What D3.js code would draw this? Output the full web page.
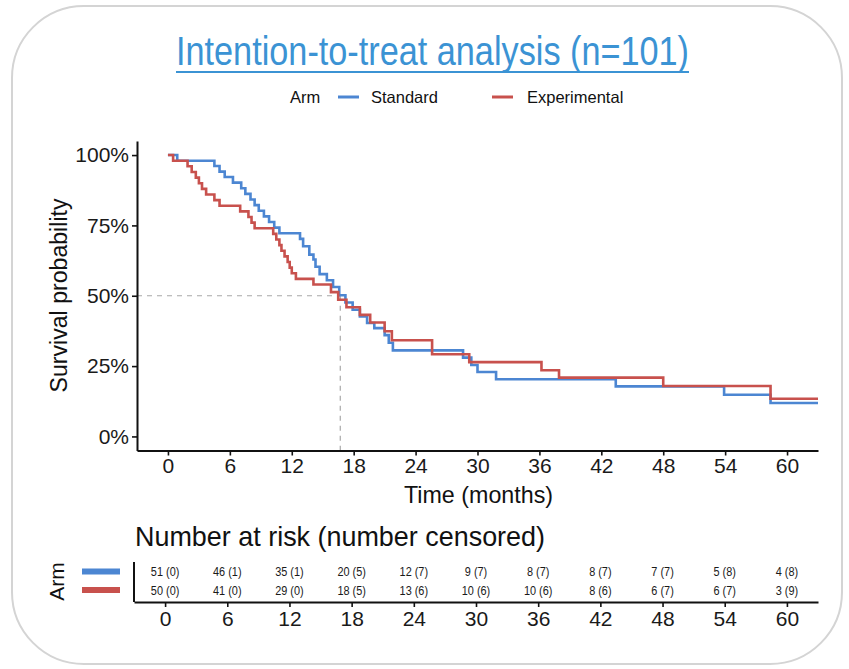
<!DOCTYPE html>
<html>
<head>
<meta charset="utf-8">
<script src="https://cdn.jsdelivr.net/npm/d3@7"></script>
<style>
  body { margin: 0; background: #fff; }
  svg { display: block; font-family: "Liberation Sans", Arial, sans-serif; }
</style>
</head>
<body>
<div id="chart"></div>
<script>
var width = 849, height = 669;

// arms
var arms = ["Standard", "Experimental"];
var armColors = ["#4c86d2", "#c8514d"];

// Kaplan-Meier steps (time in months, survival)
var stdTime = [0, 0.9, 4.5, 5.0, 5.5, 6.3, 7.1, 7.5, 8.0, 8.4, 8.8, 9.3, 9.8, 10.3, 10.8, 12.8, 13.1, 13.7, 14.1, 14.3, 14.7, 15.4, 16.0, 16.6, 17.2, 17.9, 18.6, 19.3, 20.0, 21.0, 21.4, 21.8, 28.6, 29.4, 30.0, 31.8, 43.4, 53.9, 58.4];
var stdSurv = [1.000, 0.980, 0.961, 0.941, 0.922, 0.902, 0.882, 0.862, 0.842, 0.822, 0.802, 0.782, 0.762, 0.742, 0.722, 0.702, 0.676, 0.646, 0.629, 0.603, 0.577, 0.555, 0.531, 0.502, 0.476, 0.450, 0.426, 0.403, 0.385, 0.360, 0.333, 0.306, 0.280, 0.254, 0.229, 0.203, 0.178, 0.148, 0.119];

var expTime = [0, 0.5, 1.9, 2.3, 2.7, 3.0, 3.3, 3.7, 4.5, 5.0, 7.0, 7.8, 8.1, 8.4, 10.2, 10.5, 10.8, 11.0, 11.3, 11.6, 11.8, 12.0, 12.4, 14.1, 15.8, 16.5, 17.3, 18.6, 19.6, 21.0, 21.7, 25.6, 29.2, 36.2, 37.9, 48.0, 58.4];
var expSurv = [1.00, 0.98, 0.96, 0.94, 0.92, 0.90, 0.88, 0.86, 0.84, 0.82, 0.80, 0.78, 0.76, 0.74, 0.72, 0.70, 0.68, 0.66, 0.64, 0.62, 0.60, 0.58, 0.56, 0.54, 0.513, 0.486, 0.459, 0.432, 0.405, 0.374, 0.342, 0.292, 0.264, 0.235, 0.209, 0.179, 0.134];

var endTime = 63;
var medianTime = 16.7;

var xTicks = [0, 6, 12, 18, 24, 30, 36, 42, 48, 54, 60];
var yTicks = [0, 0.25, 0.5, 0.75, 1];

// number at risk (number censored)
var riskStd = ["51 (0)", "46 (1)", "35 (1)", "20 (5)", "12 (7)", "9 (7)", "8 (7)", "8 (7)", "7 (7)", "5 (8)", "4 (8)"];
var riskExp = ["50 (0)", "41 (0)", "29 (0)", "18 (5)", "13 (6)", "10 (6)", "10 (6)", "8 (6)", "6 (7)", "6 (7)", "3 (9)"];

var svg = d3.select("#chart")
  .append("svg")
  .attr("width", width)
  .attr("height", height);

// rounded frame
svg.append("rect")
  .attr("x", 12).attr("y", 6)
  .attr("width", 830).attr("height", 658)
  .attr("rx", 72).attr("ry", 72)
  .attr("fill", "#fff")
  .attr("stroke", "#d4d4d4")
  .attr("stroke-width", 2);

// title
var titleColor = "#3b93d4";
svg.append("text")
  .attr("x", 432.5).attr("y", 65)
  .attr("text-anchor", "middle")
  .attr("textLength", 513)
  .attr("lengthAdjust", "spacingAndGlyphs")
  .style("font-family", "'Liberation Sans Narrow', 'Arial Narrow', 'Liberation Sans', sans-serif")
  .style("font-size", "40px")
  .attr("fill", titleColor)
  .text("Intention-to-treat analysis (n=101)");
svg.append("line")
  .attr("x1", 176).attr("x2", 689)
  .attr("y1", 72).attr("y2", 72)
  .attr("stroke", titleColor).attr("stroke-width", 2);

// legend
var leg = svg.append("g").style("font-size", "16.5px").attr("fill", "#111");
leg.append("text").attr("x", 290).attr("y", 103).text("Arm");
var legX = [[338, 371], [492, 527]];
arms.forEach(function(a, i) {
  leg.append("line")
    .attr("x1", legX[i][0]).attr("x2", legX[i][0] + 21)
    .attr("y1", 97).attr("y2", 97)
    .attr("stroke", armColors[i]).attr("stroke-width", 3);
  leg.append("text").attr("x", legX[i][1]).attr("y", 103).text(a);
});

// scales
var x = d3.scaleLinear().domain([-3, 63]).range([137, 818]);
var y = d3.scaleLinear().domain([-0.05, 1.05]).range([450.5, 141]);

// median dashed line
var med = svg.append("g")
  .attr("stroke", "#a8a8a8")
  .attr("stroke-width", 1.2)
  .attr("stroke-dasharray", "5,5")
  .attr("fill", "none");
med.append("line")
  .attr("x1", x.range()[0]).attr("x2", x(medianTime))
  .attr("y1", y(0.5)).attr("y2", y(0.5));
med.append("line")
  .attr("x1", x(medianTime)).attr("x2", x(medianTime))
  .attr("y1", y(0.5)).attr("y2", y.range()[0]);

// curves
var line = d3.line()
  .x(function(d) { return x(d[0]); })
  .y(function(d) { return y(d[1]); })
  .curve(d3.curveStepAfter);

function steps(t, s) {
  var pts = t.map(function(v, i) { return [v, s[i]]; });
  pts.push([endTime, s[s.length - 1]]);
  return pts;
}

var curves = [steps(stdTime, stdSurv), steps(expTime, expSurv)];
curves.forEach(function(c, i) {
  svg.append("path")
    .attr("d", line(c))
    .attr("fill", "none")
    .attr("stroke", armColors[i])
    .attr("stroke-width", 2.6);
});

// axes
function styleAxis(g, size) {
  g.select(".domain").attr("stroke", "#111").attr("stroke-width", 2);
  g.selectAll(".tick line").attr("stroke", "#111").attr("stroke-width", 1.6);
  g.selectAll(".tick text").attr("fill", "#1a1a1a").style("font-size", size);
  g.attr("font-family", null);
}

var yAxis = svg.append("g")
  .attr("transform", "translate(137,0)")
  .call(d3.axisLeft(y).tickValues(yTicks).tickFormat(d3.format(".0%")).tickSize(5).tickSizeOuter(0).tickPadding(3));
styleAxis(yAxis, "21px");

var xAxis = svg.append("g")
  .attr("transform", "translate(0,450.5)")
  .call(d3.axisBottom(x).tickValues(xTicks).tickSize(5).tickSizeOuter(0).tickPadding(3));
styleAxis(xAxis, "21px");

svg.append("text")
  .attr("x", 478.5).attr("y", 503)
  .attr("text-anchor", "middle")
  .attr("textLength", 149)
  .attr("lengthAdjust", "spacingAndGlyphs")
  .style("font-size", "24px")
  .attr("fill", "#111")
  .text("Time (months)");

svg.append("text")
  .attr("transform", "translate(67,295.5) rotate(-90)")
  .attr("text-anchor", "middle")
  .attr("textLength", 194)
  .attr("lengthAdjust", "spacingAndGlyphs")
  .style("font-size", "23px")
  .attr("fill", "#111")
  .text("Survival probability");

// risk table
svg.append("text")
  .attr("x", 135).attr("y", 546)
  .attr("textLength", 410)
  .attr("lengthAdjust", "spacingAndGlyphs")
  .style("font-size", "28px")
  .attr("fill", "#111")
  .text("Number at risk (number censored)");

var xt = d3.scaleLinear().domain([-3, 63]).range([134, 818]);
var rowY = [571.5, 590];
var rows = [riskStd, riskExp];

rows.forEach(function(r, i) {
  svg.append("g").selectAll("text")
    .data(r)
    .enter()
    .append("text")
    .attr("transform", function(d, j) {
      return "translate(" + xt(xTicks[j]) + "," + (rowY[i] + 4.5) + ") scale(0.84,1)";
    })
    .attr("text-anchor", "middle")
    .style("font-size", "13px")
    .attr("fill", "#1a1a1a")
    .text(function(d) { return d; });

  svg.append("line")
    .attr("x1", 82).attr("x2", 120)
    .attr("y1", rowY[i]).attr("y2", rowY[i])
    .attr("stroke", armColors[i])
    .attr("stroke-width", 6);
});

svg.append("line")
  .attr("x1", 134).attr("x2", 134)
  .attr("y1", 562).attr("y2", 602)
  .attr("stroke", "#111").attr("stroke-width", 2);

var tAxis = svg.append("g")
  .attr("transform", "translate(0,602)")
  .call(d3.axisBottom(xt).tickValues(xTicks).tickSize(5).tickSizeOuter(0).tickPadding(4));
styleAxis(tAxis, "21px");

svg.append("text")
  .attr("transform", "translate(64,581.5) rotate(-90)")
  .attr("text-anchor", "middle")
  .style("font-size", "21px")
  .attr("fill", "#111")
  .text("Arm");
</script>
</body>
</html>
